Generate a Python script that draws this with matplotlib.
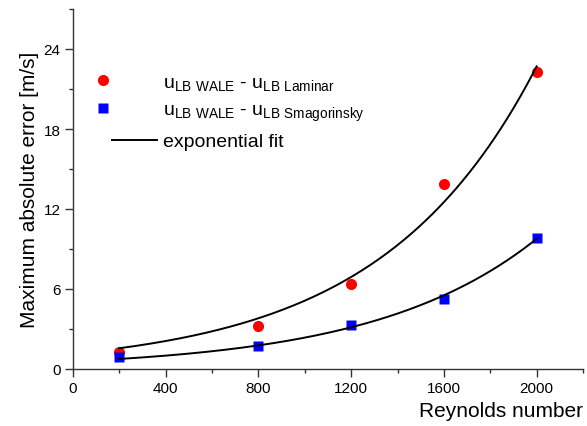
import numpy as np
import matplotlib
matplotlib.use('Agg')
import matplotlib.pyplot as plt
from matplotlib.legend_handler import HandlerLine2DCompound
from matplotlib.ticker import MultipleLocator

plt.rcParams['font.family'] = ['Liberation Sans', 'DejaVu Sans']

reynolds = np.array([200, 800, 1200, 1600, 2000])
err_laminar = np.array([1.25, 3.2, 6.34, 13.86, 22.25])
err_smago = np.array([0.93, 1.7, 3.33, 5.26, 9.85])


def exp_fit(x, y):
    # least squares y = A*exp(b*x), scan b and solve A
    best = None
    for b in np.linspace(0.0005, 0.003, 5001):
        e = np.exp(b * x)
        A = np.sum(y * e) / np.sum(e * e)
        r = np.sum((y - A * e) ** 2)
        if best is None or r < best[0]:
            best = (r, A, b)
    return best[1], best[2]


class LeftMarker(HandlerLine2DCompound):
    # marker drawn left of the handle, like the original legend
    def get_xdata(self, legend, xdescent, ydescent, width, height, fontsize):
        xdata, xm = super().get_xdata(legend, xdescent, ydescent, width, height, fontsize)
        return xdata, [xm[0] - 0.7 * width]


fig = plt.figure(figsize=(5.87, 4.27), dpi=100)
ax = fig.add_axes([73 / 587, 57 / 427, 510 / 587, 360 / 427])

xx = np.linspace(200, 2000, 200)
A1, b1 = exp_fit(reynolds, err_laminar)
A2, b2 = exp_fit(reynolds, err_smago)
fit1, = ax.plot(xx, A1 * np.exp(b1 * xx), color='black', lw=1.4, zorder=2)
ax.plot(xx, A2 * np.exp(b2 * xx), color='black', lw=1.4, zorder=2)

p1, = ax.plot(reynolds, err_laminar, 'o', color='#ff0000', ms=8, mec='none', zorder=1)
p2, = ax.plot(reynolds, err_smago, 's', color='#0000ff', ms=6.5, mec='none', zorder=1)

ax.set_xlim(0, 2200)
ax.set_ylim(0, 27)
ax.xaxis.set_major_locator(MultipleLocator(400))
ax.xaxis.set_minor_locator(MultipleLocator(200))
ax.yaxis.set_major_locator(MultipleLocator(6))
ax.yaxis.set_minor_locator(MultipleLocator(3))
ax.tick_params(which='major', length=6, width=1, labelsize=11, colors='#333333', labelcolor='black')
ax.tick_params(which='minor', length=3, width=1, colors='#333333')
ax.tick_params(axis='x', pad=3)
ax.tick_params(axis='y', pad=3)
for s in ['top', 'right']:
    ax.spines[s].set_visible(False)
for s in ['left', 'bottom']:
    ax.spines[s].set_color('#333333')
    ax.spines[s].set_linewidth(1)

ax.set_xlabel('Reynolds number', fontsize=15, loc='right', labelpad=4)
ax.set_ylabel('Maximum absolute error [m/s]', fontsize=15, labelpad=3)

labels = [r'$\mathregular{u_{LB\ WALE}}$ - $\mathregular{u_{LB\ Laminar}}$',
          r'$\mathregular{u_{LB\ WALE}}$ - $\mathregular{u_{LB\ Smagorinsky}}$',
          'exponential fit']
ax.legend([p1, p2, fit1], labels, loc='upper left', bbox_to_anchor=(0.0765, 0.822),
          frameon=False, fontsize=14, handlelength=2.3, handletextpad=0.3,
          borderpad=0, borderaxespad=0, labelspacing=0.5, numpoints=1,
          handler_map={p1: LeftMarker(), p2: LeftMarker()})

fig.savefig('out.png', dpi=100)
